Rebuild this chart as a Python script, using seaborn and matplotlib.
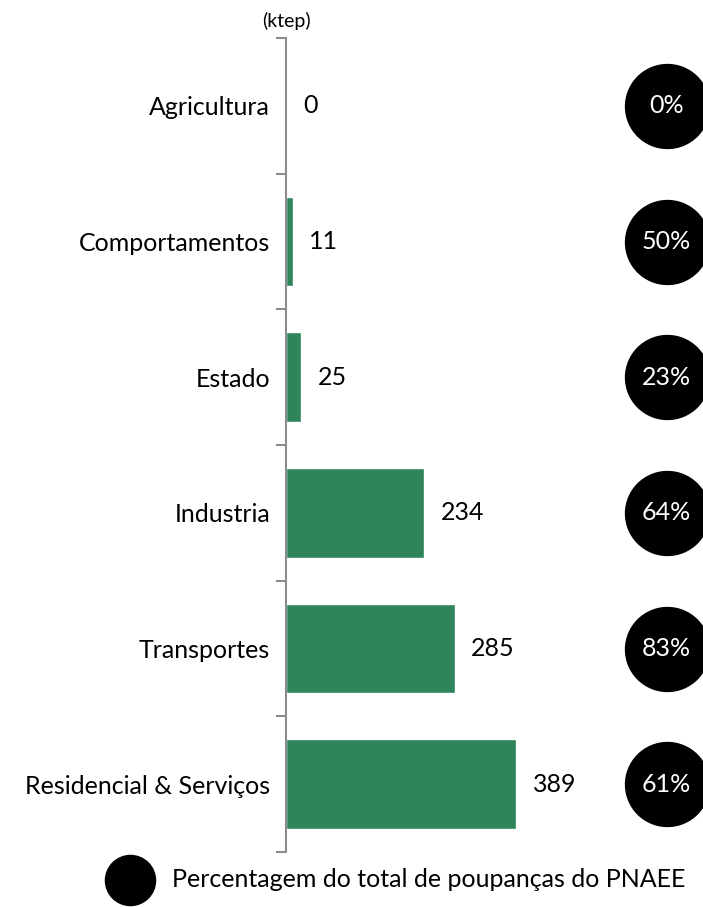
import numpy as np
import pandas as pd
import seaborn as sns
import matplotlib.pyplot as plt

# data
sectors = ["Agricultura", "Comportamentos", "Estado", "Industria",
           "Transportes", "Residencial & Serviços"]
savings = [0, 11, 25, 234, 285, 389]
shares = ["0%", "50%", "23%", "64%", "83%", "61%"]
legend_label = "Percentagem do total de poupanças do PNAEE"
unit = "(ktep)"

df = pd.DataFrame({"sector": sectors, "savings": savings, "share": shares})

sns.set_style("white")
plt.rcParams["font.family"] = ["Lato", "DejaVu Sans"]
plt.rcParams["text.color"] = "black"
plt.rcParams["ytick.labelcolor"] = "black"

fig = plt.figure(figsize=(7.03, 9.07), dpi=100)
ax = fig.add_axes([0.407, 0.0606, 0.593, 0.8975])

sns.barplot(data=df, x="savings", y="sector", color="#2E855A",
            width=0.66, saturation=1, ax=ax)

ax.set_xlim(0, 705)
ax.set_ylim(5.5, -0.5)
ax.set_xlabel("")
ax.set_ylabel("")
ax.set_xticks([])

# spines: only the left one, gray
for s in ["top", "right", "bottom"]:
    ax.spines[s].set_visible(False)
ax.spines["left"].set_color("#8c8c8c")
ax.spines["left"].set_linewidth(1.5)

ax.tick_params(axis="y", which="major", left=False, length=0, pad=11.5,
               labelsize=18, labelcolor="black")
ax.set_yticks(np.arange(-0.5, len(sectors)), minor=True)
ax.tick_params(axis="y", which="minor", left=True, length=7, width=1.5,
               color="#8c8c8c")

# value labels
for i, v in enumerate(savings):
    ax.annotate(str(v), (v, i), xytext=(12, 0), textcoords="offset points",
                va="center", ha="left", fontsize=18, color="black")

# black circles with percentages
trans = ax.get_yaxis_transform()
ax.scatter([0.914] * len(shares), range(len(shares)), s=3650, color="black",
           transform=trans, clip_on=False, zorder=3)
for i, p in enumerate(shares):
    ax.text(0.912, i, p, transform=trans, ha="center", va="center",
            color="white", fontsize=18, zorder=4)

ax.text(0, 1.01, unit, transform=ax.transAxes, ha="center", va="bottom",
        fontsize=14, color="black")

# legend
leg_ax = fig.add_axes([0, 0, 1, 0.06])
leg_ax.axis("off")
leg_ax.set_xlim(0, 703)
leg_ax.set_ylim(0, 54.4)
leg_ax.scatter([130], [27], s=1300, color="black", clip_on=False)
leg_ax.text(172, 27, legend_label, ha="left", va="center", fontsize=18,
            color="black")

fig.savefig("out.png", dpi=100)
